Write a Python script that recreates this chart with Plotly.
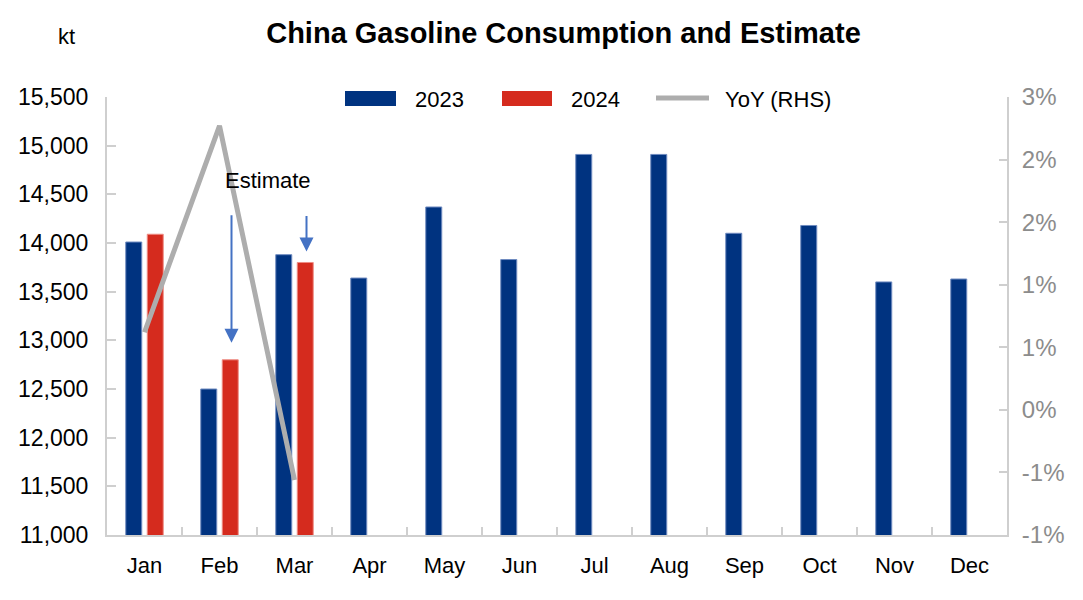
import plotly.graph_objects as go

# ---- data ----
months = ["Jan", "Feb", "Mar", "Apr", "May", "Jun", "Jul", "Aug", "Sep", "Oct", "Nov", "Dec"]
cons_2023 = [14010, 12500, 13880, 13640, 14370, 13830, 14910, 14910, 14100, 14180, 13600, 13630]
cons_2024 = [14090, 12800, 13800, None, None, None, None, None, None, None, None, None]
yoy_months = ["Jan", "Feb", "Mar"]
yoy_pct = [0.62, 2.27, -0.56]

left_tickvals = [11000, 11500, 12000, 12500, 13000, 13500, 14000, 14500, 15000, 15500]
right_tickvals = [-1.0, -0.5, 0.0, 0.5, 1.0, 1.5, 2.0, 2.5]
right_ticktext = ["-1%", "-1%", "0%", "1%", "1%", "2%", "2%", "3%"]

# ---- style ----
W, H = 1083, 600
ML, MR, MT, MB = 107, 76, 97, 65
PW, PH = W - ML - MR, H - MT - MB
FONT = "Arial, Liberation Sans, sans-serif"
BLUE = "#003380"
RED = "#D52B1E"
GREY_LINE = "#ADADAD"
AXIS = "#CFCFCF"


def px_x(px):
    return (px - ML) / PW


def px_y(py):
    return (H - MB - py) / PH


fig = go.Figure()
fig.add_trace(go.Bar(
    x=months, y=cons_2023, name="2023",
    marker=dict(color=BLUE, line=dict(color="#6F8BC0", width=1)),
    showlegend=False,
))
fig.add_trace(go.Bar(
    x=months, y=cons_2024, name="2024",
    marker=dict(color=RED, line=dict(color="#EE8C84", width=1)),
    showlegend=False,
))
fig.add_trace(go.Scatter(
    x=yoy_months, y=yoy_pct, name="YoY (RHS)", yaxis="y2", mode="lines",
    line=dict(color=GREY_LINE, width=5),
    showlegend=False,
))

fig.update_layout(
    width=W, height=H,
    margin=dict(l=ML, r=MR, t=MT, b=MB, pad=0),
    paper_bgcolor="white", plot_bgcolor="white",
    font=dict(family=FONT, size=22, color="black"),
    barmode="group", bargap=0.427, bargroupgap=0.256,
    title=dict(text="<b>China Gasoline Consumption and Estimate</b>",
               x=563.5 / W, xanchor="center", y=1 - 33 / H, yanchor="middle",
               font=dict(family=FONT, size=29, color="black")),
    xaxis=dict(
        type="category", categoryorder="array", categoryarray=months,
        showline=True, linecolor=AXIS, linewidth=2,
        ticks="inside", tickson="boundaries", ticklen=8, tickcolor=AXIS, tickwidth=2,
        showgrid=False, zeroline=False, ticklabelstandoff=10,
        tickfont=dict(size=22, color="black"),
    ),
    yaxis=dict(
        range=[11000, 15500], tickvals=left_tickvals, tickformat=",d",
        showline=True, linecolor=AXIS, linewidth=2,
        ticks="inside", ticklen=9, tickcolor=AXIS, tickwidth=2,
        showgrid=False, zeroline=False, ticklabelstandoff=12,
        tickfont=dict(size=23, color="black"),
    ),
    yaxis2=dict(
        overlaying="y", side="right", range=[-1.0, 2.5],
        tickvals=right_tickvals, ticktext=right_ticktext,
        showline=True, linecolor=AXIS, linewidth=2,
        ticks="inside", ticklen=8, tickcolor=AXIS, tickwidth=2,
        showgrid=False, zeroline=False, ticklabelstandoff=8,
        tickfont=dict(size=24, color="#8C8C8C"),
    ),
)

# unit label
fig.add_annotation(text="kt", xref="paper", yref="paper", x=px_x(66.5), y=px_y(36),
                   showarrow=False, xanchor="center", yanchor="middle",
                   font=dict(size=22, color="black"))

# custom legend (wide swatches as in the reference)
legend_items = [
    ("2023", BLUE, "bar", 345, 396, 413),
    ("2024", RED, "bar", 502, 552, 569),
    ("YoY (RHS)", GREY_LINE, "line", 656, 709, 723),
]
for label, color, kind, x0, x1, tx in legend_items:
    if kind == "bar":
        fig.add_shape(type="rect", xref="paper", yref="paper",
                      x0=px_x(x0), x1=px_x(x1), y0=px_y(106), y1=px_y(91),
                      fillcolor=color, line=dict(width=0))
    else:
        fig.add_shape(type="line", xref="paper", yref="paper",
                      x0=px_x(x0), x1=px_x(x1), y0=px_y(98), y1=px_y(98),
                      line=dict(color=color, width=5))
    fig.add_annotation(text=label, xref="paper", yref="paper", x=px_x(tx), y=px_y(99),
                       showarrow=False, xanchor="left", yanchor="middle",
                       font=dict(size=22, color="black"))

# "Estimate" label and arrows pointing to the 2024 estimate bars
fig.add_annotation(text="Estimate", xref="paper", yref="paper", x=px_x(268), y=px_y(180),
                   showarrow=False, xanchor="center", yanchor="middle",
                   font=dict(size=22, color="black"))
ARROW = "#4472C4"
fig.add_annotation(text="", xref="x", yref="y", x="Feb", y=cons_2024[1], xshift=12, yshift=17,
                   showarrow=True, ax=0, ay=-129, arrowhead=2, arrowsize=1.4,
                   arrowwidth=2, arrowcolor=ARROW, standoff=0)
fig.add_annotation(text="", xref="x", yref="y", x="Mar", y=cons_2024[2], xshift=12, yshift=11,
                   showarrow=True, ax=0, ay=-37, arrowhead=2, arrowsize=1.4,
                   arrowwidth=2, arrowcolor=ARROW, standoff=0)

fig.write_html("out.html", config={"displayModeBar": False},
               post_script="document.body.style.margin='0';")
